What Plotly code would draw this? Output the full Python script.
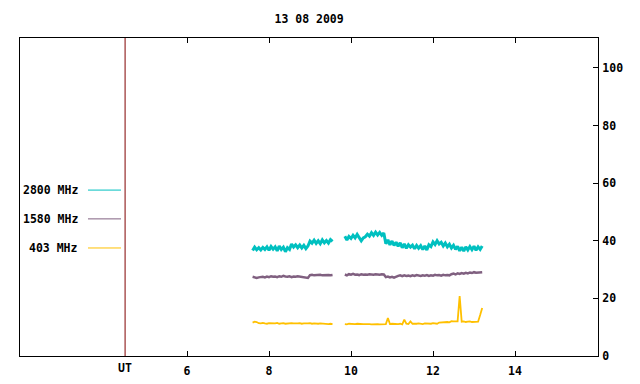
import numpy as np
import plotly.graph_objects as go

title_text = "13 08 2009"

# Sampling times (UT hours)
t_seg1 = np.round(np.arange(7.60, 9.551, 0.05), 2).tolist()     # 40 samples
t_seg2 = np.round(np.arange(9.85, 13.201, 0.05), 2).tolist()    # 68 samples

# 2800 MHz
f2800_seg1 = [36.6, 37.8, 36.9, 37.6, 36.8, 37.7, 37.0, 37.9, 36.7, 38.0,
              37.1, 37.9, 36.5, 38.2, 37.0, 37.8, 36.2, 37.6, 37.0, 38.9,
              37.8, 38.6, 37.6, 38.5, 37.5, 38.4, 37.3, 38.2, 39.9, 39.2,
              40.2, 39.1, 40.0, 39.0, 40.3, 39.3, 40.1, 39.2, 40.4, 39.8]
f2800_seg2 = [41.6, 40.3, 41.5, 40.8, 41.9, 41.0, 42.2, 40.9, 40.0, 41.0,
              41.4, 42.3, 41.6, 42.8, 41.9, 43.0, 42.0, 42.9, 41.9, 42.7,
              39.0, 40.3, 38.6, 39.9, 38.4, 39.5, 38.1, 39.3, 37.6, 38.9,
              37.4, 38.6, 37.8, 38.5, 37.2, 38.4, 37.4, 38.3, 37.0, 38.2,
              36.8, 38.6, 38.0, 39.6, 38.7, 40.0, 38.9, 39.5, 38.2, 39.2,
              37.9, 38.8, 37.5, 38.4, 37.0, 38.1, 36.5, 37.8, 36.4, 37.9,
              36.8, 38.0, 36.9, 38.1, 36.7, 37.9, 37.0, 38.2]

# 1580 MHz
f1580_seg1 = [27.5, 27.2, 27.1, 27.3, 27.4, 27.5, 27.3, 27.6, 27.4, 27.7,
              27.5, 27.6, 27.4, 27.7, 27.5, 27.8, 27.6, 27.5, 27.7, 27.4,
              27.6, 27.5, 27.7, 27.6, 27.4, 27.5, 27.3, 27.1, 28.1, 28.2,
              28.0, 28.1, 28.0, 28.2, 28.0, 28.1, 28.0, 28.1, 28.0, 28.1]
f1580_seg2 = [28.3, 28.0, 28.4, 28.2, 28.5, 28.2, 28.3, 28.1, 28.4, 28.2,
              28.3, 28.2, 28.4, 28.3, 28.2, 28.4, 28.3, 28.2, 28.4, 28.3,
              27.4, 27.6, 27.3, 27.5, 27.2, 27.6,
              27.8, 28.0, 27.7, 28.0, 27.8, 27.9, 27.7, 28.0, 27.8, 28.1,
              27.9, 27.8, 28.0, 27.9, 28.1, 27.8, 28.0, 27.9, 28.2, 28.0,
              28.1, 27.9, 28.2, 28.0, 28.1, 28.0,
              28.4, 28.6, 28.3, 28.7, 28.5, 28.8, 28.6, 28.9, 28.7, 29.0,
              28.8, 29.1, 28.9, 29.0, 29.2, 29.1]

# 403 MHz
f403_seg1 = [11.6, 11.9, 11.8, 11.4, 11.3, 11.5, 11.3, 11.2, 11.4, 11.3,
             11.2, 11.3, 11.5, 11.2, 11.3, 11.4, 11.2, 11.3, 11.2, 11.4,
             11.3, 11.2, 11.3, 11.4, 11.2, 11.3, 11.2, 11.3, 11.4, 11.2,
             11.3, 11.2, 11.2, 11.3, 11.2, 11.1, 11.2, 11.1, 11.2, 11.1]
f403_seg2 = [11.1, 11.0, 11.2, 11.1, 11.0, 11.1, 11.2, 11.1, 11.0, 11.1,
             11.1, 11.2, 11.1, 11.0, 11.1, 11.2, 11.1, 11.0, 11.1, 11.2,
             11.1, 13.2, 11.1, 11.2, 11.1, 11.0, 11.1, 11.2, 11.0, 12.6,
             11.2, 11.1, 12.0, 11.2, 11.1, 11.2, 11.3, 11.2, 11.1, 11.3,
             11.2, 11.3, 11.2, 11.4, 11.3, 11.2, 11.6, 11.7, 11.6, 11.7,
             11.8, 11.7, 12.1, 12.0, 12.1, 12.0, 20.8, 11.9, 12.0, 11.8,
             11.9, 12.0, 11.8, 11.9, 12.0, 11.9, 14.2, 16.7]

series_names = ["2800 MHz", "1580 MHz", "403 MHz"]
series_colors = ["#00c0c0", "#806080", "#ffc000"]
series_widths = [3, 2.5, 1.8]
series_data = [(f2800_seg1, f2800_seg2), (f1580_seg1, f1580_seg2), (f403_seg1, f403_seg2)]
legend_y = [57.6, 47.6, 37.5]

x_tick_vals = [6, 8, 10, 12, 14]
x_tick_text = ["6", "8", "10", "12", "14"]
y_tick_vals = [0, 20, 40, 60, 80, 100]
ut_pos = 4.49

FONT = "DejaVu Sans Mono"
fig = go.Figure()
times = t_seg1 + [None] + t_seg2
for name, color, w, (s1, s2) in zip(series_names, series_colors, series_widths, series_data):
    fig.add_trace(go.Scatter(x=times, y=s1 + [None] + s2, mode="lines",
                             line=dict(color=color, width=w), name=name,
                             connectgaps=False, showlegend=False, hoverinfo="skip"))

# UT marker line
fig.add_shape(type="line", xref="x", yref="paper", x0=ut_pos, x1=ut_pos, y0=0, y1=1,
              line=dict(color="#800000", width=1))
fig.add_annotation(x=ut_pos, xref="x", y=0, yref="paper", yshift=-12, text="UT",
                   showarrow=False, font=dict(family=FONT, size=11.5, color="black", weight="bold"),
                   xanchor="center", yanchor="middle")

# Key on the left
for name, color, ly in zip(series_names, series_colors, legend_y):
    fig.add_shape(type="line", xref="x", yref="y", x0=3.585, x1=4.39, y0=ly, y1=ly,
                  line=dict(color=color, width=1))
    fig.add_annotation(x=3.39, xref="x", y=ly, yref="y", text=name, showarrow=False,
                       xanchor="right", yanchor="middle",
                       font=dict(family=FONT, size=11.5, color="black", weight="bold"))

fig.update_layout(
    width=640, height=384,
    margin=dict(l=20, r=42, t=38, b=28, autoexpand=False),
    paper_bgcolor="white", plot_bgcolor="white",
    title=dict(text=title_text, x=0.483, xanchor="center", y=1 - 19 / 384, yanchor="middle",
               font=dict(family=FONT, size=11.5, color="black", weight="bold")),
    font=dict(family=FONT, size=11.5, color="black", weight="bold"),
    showlegend=False,
)
fig.update_xaxes(range=[1.9268, 16.0244], tickvals=x_tick_vals, ticktext=x_tick_text,
                 ticks="inside", ticklen=5, tickcolor="black", showline=True, linecolor="black",
                 linewidth=1, mirror="ticks", showgrid=False, zeroline=False,
                 ticklabelstandoff=4, automargin=False)
fig.update_yaxes(range=[0, 110.4], tickvals=y_tick_vals, side="right",
                 ticks="inside", ticklen=5, tickcolor="black", showline=True, linecolor="black",
                 linewidth=1, mirror=True, showgrid=False, zeroline=False,
                 ticklabelstandoff=1, automargin=False)

fig.write_html("out.html", config={"displayModeBar": False},
               post_script="document.body.style.margin='0';document.body.style.overflow='hidden';")
